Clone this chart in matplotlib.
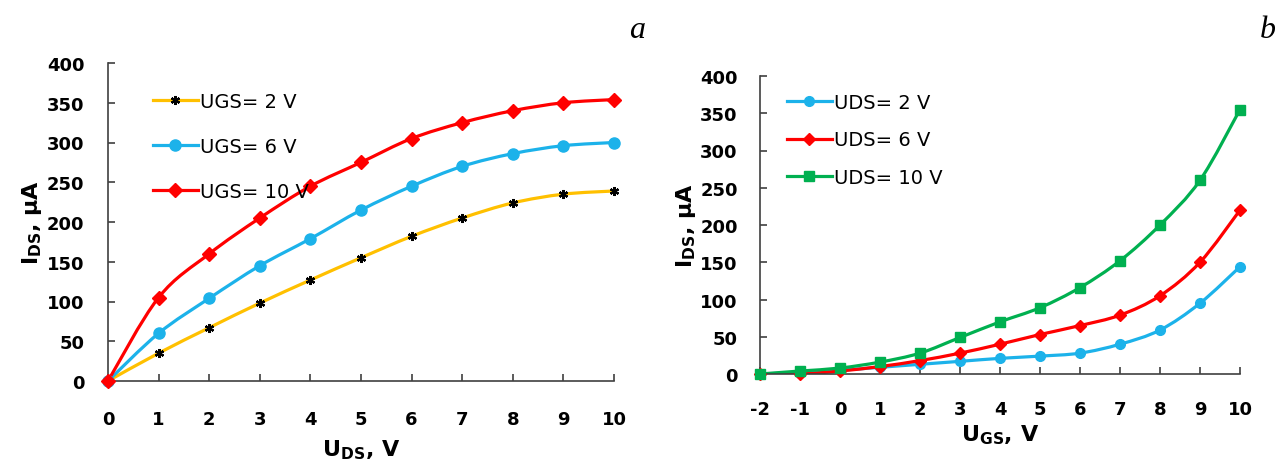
import numpy as np
import matplotlib
matplotlib.use("Agg")
import matplotlib.pyplot as plt
from matplotlib.path import Path
from matplotlib.patches import PathPatch
from matplotlib.lines import Line2D

plt.rcParams['font.family'] = ['DejaVu Sans']
plt.rcParams['mathtext.fontset'] = 'dejavusans'
plt.rcParams['mathtext.default'] = 'bf'
plt.rcParams['axes.unicode_minus'] = False

# panel a: output characteristics
uds = [0, 1, 2, 3, 4, 5, 6, 7, 8, 9, 10]
ids_ugs2 = [0, 35, 67, 98, 127, 155, 182, 205, 224, 235, 239]
ids_ugs6 = [0, 60, 104, 145, 179, 215, 245, 270, 286, 296, 300]
ids_ugs10 = [0, 105, 160, 205, 245, 275, 305, 325, 340, 350, 354]

# panel b: transfer characteristics
ugs = [-2, -1, 0, 1, 2, 3, 4, 5, 6, 7, 8, 9, 10]
ids_uds2 = [0, 2, 5, 9, 13, 17, 21, 24, 28, 40, 59, 95, 144]
ids_uds6 = [0, 0, 4, 10, 18, 28, 40, 53, 65, 79, 105, 150, 220]
ids_uds10 = [0, 4, 8, 16, 28, 49, 70, 89, 116, 152, 200, 260, 355]

YELLOW = '#FFC000'
BLUE = '#1CB2EA'
RED = '#FF0000'
GREEN = '#00B050'


def smoothPath(x, y):
    # excel-like smoothed line (catmull-rom as cubic bezier)
    pts = np.column_stack([np.asarray(x, float), np.asarray(y, float)])
    n = len(pts)
    verts = [pts[0]]
    codes = [Path.MOVETO]
    for i in range(n - 1):
        p0 = pts[max(i - 1, 0)]
        p1 = pts[i]
        p2 = pts[i + 1]
        p3 = pts[min(i + 2, n - 1)]
        verts += [p1 + (p2 - p0) / 6, p2 - (p3 - p1) / 6, p2]
        codes += [Path.CURVE4] * 3
    return Path(verts, codes)


def drawSeries(ax, x, y, color, marker, ms, mcolor=None, mew=1.0):
    mcolor = mcolor or color
    ax.add_patch(PathPatch(smoothPath(x, y), fill=False, edgecolor=color,
                           lw=2.3, zorder=2, capstyle='round'))
    ax.plot(x, y, ls='none', marker=marker, ms=ms, color=mcolor,
            mec=mcolor, mew=mew, zorder=3, clip_on=False)
    return Line2D([], [], color=color, lw=2.3, marker=marker, ms=ms,
                  mfc=mcolor, mec=mcolor, mew=mew)


def styleAxes(ax, xlim, xticks, xpad, ypad):
    ax.set_xlim(xlim)
    ax.set_ylim(0, 400)
    ax.set_xticks(xticks)
    ax.set_yticks(np.arange(0, 401, 50))
    for s in ['top', 'right']:
        ax.spines[s].set_visible(False)
    for s in ['left', 'bottom']:
        ax.spines[s].set_color('#404040')
        ax.spines[s].set_linewidth(1.2)
    ax.tick_params(axis='x', direction='in', length=5, width=1.2, color='#404040',
                   labelsize=13, pad=xpad)
    ax.tick_params(axis='y', direction='in', length=5, width=1.2, color='#404040',
                   labelsize=13, pad=ypad)
    for lab in ax.get_xticklabels() + ax.get_yticklabels():
        lab.set_fontweight('bold')


fig = plt.figure(figsize=(12.81, 4.64), dpi=100)

# ---- panel a
ax1 = fig.add_axes([108 / 1281, 1 - 382 / 464, 506 / 1281, 318 / 464])
h1 = drawSeries(ax1, uds, ids_ugs2, YELLOW, (6, 2, 0), 6.5, mcolor='black', mew=1.6)
h2 = drawSeries(ax1, uds, ids_ugs6, BLUE, 'o', 8)
h3 = drawSeries(ax1, uds, ids_ugs10, RED, 'D', 7.5)
styleAxes(ax1, (0, 10), uds, 21, 17)
ax1.set_xlabel(r'$U_{DS}$, V', fontsize=16, fontweight='bold', labelpad=7)
ax1.set_ylabel(r'$I_{DS}$, µA', fontsize=16, fontweight='bold', labelpad=2)
ax1.legend([h1, h2, h3], ['UGS= 2 V', 'UGS= 6 V', 'UGS= 10 V'],
           loc='upper left', bbox_to_anchor=(0.089, 0.91), frameon=False,
           fontsize=14, handlelength=2.3, handletextpad=0.1,
           labelspacing=1.35, borderpad=0, borderaxespad=0)

# ---- panel b
ax2 = fig.add_axes([760 / 1281, 1 - 375 / 464, 480 / 1281, 298 / 464])
g1 = drawSeries(ax2, ugs, ids_uds2, BLUE, 'o', 7)
g2 = drawSeries(ax2, ugs, ids_uds6, RED, 'D', 6.5)
g3 = drawSeries(ax2, ugs, ids_uds10, GREEN, 's', 7)
styleAxes(ax2, (-2, 10), ugs, 19, 16)
ax2.set_xlabel(r'$U_{GS}$, V', fontsize=16, fontweight='bold', labelpad=3)
ax2.set_ylabel(r'$I_{DS}$, µA', fontsize=16, fontweight='bold', labelpad=2)
ax2.legend([g1, g2, g3], ['UDS= 2 V', 'UDS= 6 V', 'UDS= 10 V'],
           loc='upper left', bbox_to_anchor=(0.056, 0.943), frameon=False,
           fontsize=14, handlelength=2.3, handletextpad=0.1,
           labelspacing=0.95, borderpad=0, borderaxespad=0)

fig.text(637 / 1281, 1 - 30 / 464, 'a', ha='center', va='center',
         family='Liberation Serif', style='italic', fontsize=23)
fig.text(1268 / 1281, 1 - 30 / 464, 'b', ha='center', va='center',
         family='Liberation Serif', style='italic', fontsize=23)

fig.savefig('out.png', dpi=100)
